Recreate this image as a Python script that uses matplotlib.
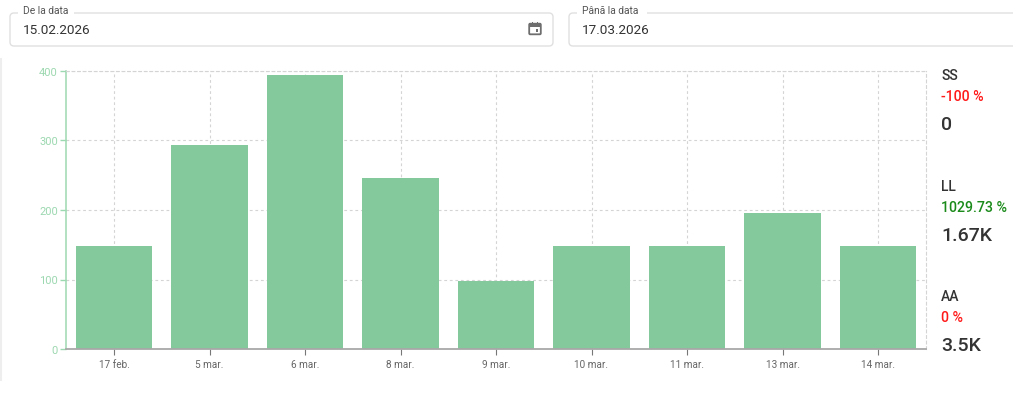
import matplotlib
matplotlib.use("Agg")
import matplotlib.pyplot as plt
from matplotlib.patches import FancyBboxPatch, Rectangle

categories = ["17 feb.", "5 mar.", "6 mar.", "8 mar.", "9 mar.", "10 mar.", "11 mar.", "13 mar.", "14 mar."]
values = [148, 294, 394, 246, 98, 148, 148, 196, 148]
y_ticks = [0, 100, 200, 300, 400]
date_labels = ["De la data", "Până la data"]
date_values = ["15.02.2026", "17.03.2026"]
stat_names = ["SS", "LL", "AA"]
stat_changes = ["-100 %", "1029.73 %", "0 %"]
stat_totals = ["0", "1.67K", "3.5K"]

GREEN = "#84c99c"
AXIS_GREEN = "#9cd8b0"
W, H = 1024, 406
plt.rcParams["font.family"] = ["Roboto", "DejaVu Sans"]
fig = plt.figure(figsize=(W / 100, H / 100), dpi=100, facecolor="white")

# chart
L, R, T, B = 66.25, 925.75, 72, 350
ax = fig.add_axes([L / W, 1 - B / H, (R - L) / W, (B - T) / H])
x = range(len(categories))
ax.bar(x, values, width=0.8, color=GREEN, zorder=3)
ax.set_xlim(-0.5, len(categories) - 0.5)
ax.set_ylim(0, 400)
ax.set_xticks(list(x), categories)
ax.set_yticks(y_ticks)
DASH = (0, (2.5, 2.5))
ax.grid(True, color="#d4d4d4", linestyle=DASH, linewidth=0.8, zorder=0)
ax.set_axisbelow(True)
for s in ("top", "right"):
    ax.spines[s].set_visible(True)
    ax.spines[s].set_color("#d4d4d4")
    ax.spines[s].set_linewidth(0.8)
    ax.spines[s].set_linestyle(DASH)
ax.spines["left"].set_color(AXIS_GREEN)
ax.spines["left"].set_linewidth(1.1)
ax.spines["bottom"].set_color("#a8a8a8")
ax.spines["bottom"].set_linewidth(1.3)
ax.spines["bottom"].set_zorder(5)
ax.tick_params(axis="y", colors=AXIS_GREEN, labelsize=8, length=4, width=1, pad=2)
ax.tick_params(axis="x", color="#777777", labelcolor="#666666", labelsize=7.2, length=4, width=0.8, pad=3)

# page overlay in pixel coordinates
ov = fig.add_axes([0, 0, 1, 1], facecolor="none")
ov.set_xlim(0, W)
ov.set_ylim(H, 0)
ov.axis("off")
ov.plot([0.5, 0.5], [60, 381], color="#eeeeee", lw=1.5)


def field(x0, x1, label, value, label_w):
    ov.add_patch(FancyBboxPatch((x0 + 4, 14 + 4), x1 - x0 - 8, 33 - 8,
                                boxstyle="round,pad=4,rounding_size=4",
                                fc="white", ec="#e0e0e0", lw=1.0))
    ov.add_patch(Rectangle((x0 + 8, 10), label_w, 8, fc="white", ec="none", zorder=3))
    ov.text(x0 + 13, 10.5, label, fontsize=7.4, color="#555555", va="center", zorder=4)
    ov.text(x0 + 13, 31, value, fontsize=9.7, color="#333333", va="center", zorder=4)


field(10, 553, date_labels[0], date_values[0], 56)
field(569, 1060, date_labels[1], date_values[1], 70)
ov.add_patch(Rectangle((1013, 0), 11, 60, fc="white", ec="none", zorder=5))

# calendar icon
ov.add_patch(FancyBboxPatch((529.5, 25), 11, 10, boxstyle="round,pad=0.3,rounding_size=1",
                            fc="white", ec="#6e6e6e", lw=1.3))
ov.add_patch(Rectangle((529, 24), 12, 3.5, fc="#6e6e6e", ec="none"))
ov.add_patch(Rectangle((531.5, 22.5), 1.4, 2, fc="#6e6e6e", ec="none"))
ov.add_patch(Rectangle((537, 22.5), 1.4, 2, fc="#6e6e6e", ec="none"))
ov.add_patch(Rectangle((535.5, 30), 2.8, 2.8, fc="#6e6e6e", ec="none"))

# side stats
name_y = [76, 187, 297]
change_y = [97, 208, 318]
total_y = [125, 236, 346]
change_colors = ["#ff1a1a", "#1a8a1a", "#ff1a1a"]
for i in range(3):
    ov.text(941, name_y[i], stat_names[i], fontsize=10, fontweight="medium", color="#333333", va="center")
    ov.text(941, change_y[i], stat_changes[i], fontsize=10.2, fontweight="medium", color=change_colors[i], va="center")
    ov.text(941, total_y[i], stat_totals[i], fontsize=14, fontweight="medium", color="#333333", va="center")

fig.savefig("out.png", dpi=100)
